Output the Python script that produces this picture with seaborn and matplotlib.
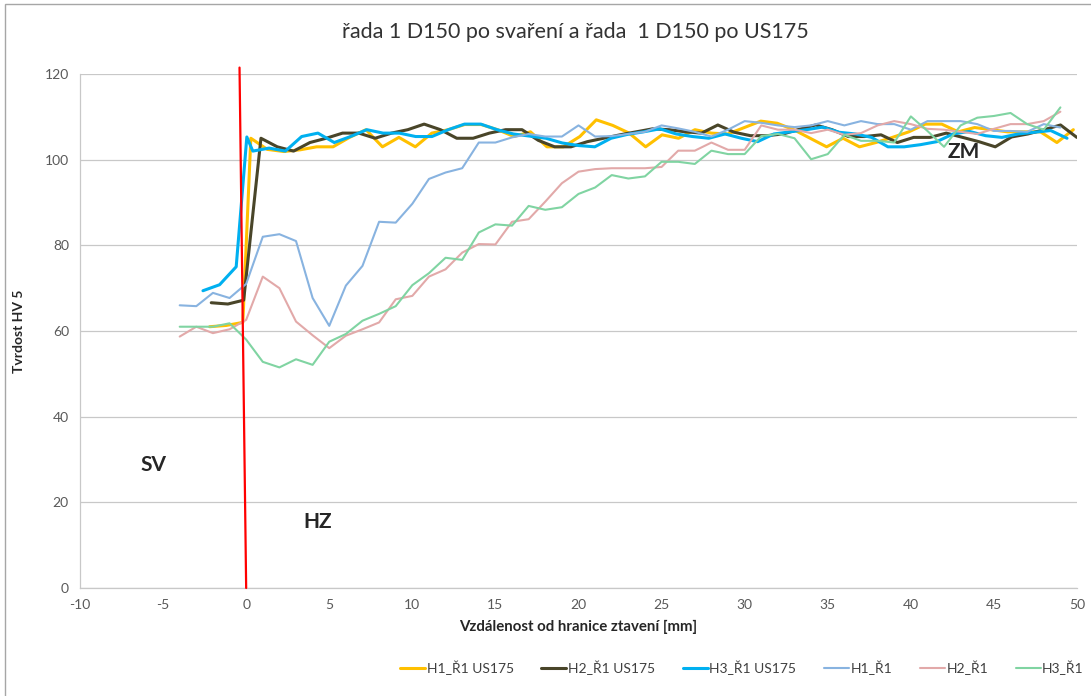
import pandas as pd
import seaborn as sns
import matplotlib.pyplot as plt
from matplotlib.patches import Rectangle

# --- data ---
# rada 1 (po svareni): mereno po 1 mm
vzd_r1 = list(range(-4, 50))
h1_r1 = [66, 65.8, 68.9, 67.7, 71, 82, 82.6, 81, 67.7, 61.2, 70.6, 75.2, 85.5, 85.3, 89.7,
         95.5, 97, 98, 104, 104, 105.2, 106, 105.4, 105.4, 108, 105.4, 105.5, 106, 106.5, 108,
         107.3, 106.5, 105.4, 107, 109, 108.6, 108, 107.6, 108, 109, 108, 109, 108.3, 108.3,
         107, 109, 109, 109, 108.3, 106.7, 106.7, 106.5, 108.3, 107.5]
h2_r1 = [58.7, 61, 59.5, 60.4, 62.6, 72.7, 70, 62.2, 59, 56, 58.9, 60.4, 62, 67.4, 68.2,
         72.7, 74.4, 78.3, 80.3, 80.2, 85.5, 86.1, 90.2, 94.5, 97.2, 97.8, 98, 98, 98, 98.3,
         102.1, 102.1, 104, 102.3, 102.3, 108, 107, 107, 106.2, 107, 105.8, 106.2, 108, 109,
         108.3, 107.2, 107, 106.5, 106, 107.2, 108.3, 108.3, 109, 111.2]
h3_r1 = [61, 61, 61, 61.8, 58, 52.8, 51.5, 53.4, 52.1, 57.5, 59.3, 62.4, 64, 65.8, 70.7,
         73.5, 77.1, 76.6, 83, 84.9, 84.6, 89.2, 88.3, 88.9, 92, 93.5, 96.4, 95.6, 96.1, 99.5,
         99.5, 99, 102.1, 101.3, 101.3, 105.5, 106, 105, 100.1, 101.3, 105.8, 104.4, 104.4, 104,
         110.1, 106.7, 103, 108, 109.8, 110.2, 110.9, 108.3, 107, 112.2]

# rada 1 po US175: body pred hranici + body za hranici (start, krok)
h1_us_pred_x = [-2.2, -1.2, -0.2]
h1_us_pred = [61, 61.3, 62]
h1_us_start, h1_us_krok = 0.28, 0.99
h1_us = [105, 102.4, 101.9, 102.3, 103, 103, 105.2, 107, 103, 105.2, 103, 106.2, 107, 108.2,
         108.2, 107, 105.4, 106.5, 103, 103, 105.4, 109.3, 108, 106.2, 103, 105.8, 105, 107,
         106.2, 106, 107.5, 109, 108.5, 107, 105, 103, 105, 103, 104, 105.2, 106.5, 108.3,
         108.3, 106.5, 107.5, 107, 106.5, 106.5, 106.5, 104, 107]

h2_us_pred_x = [-2.1, -1.1, -0.15]
h2_us_pred = [66.6, 66.3, 67.2]
h2_us_start, h2_us_krok = 0.89, 0.982
h2_us = [105, 103, 102, 104, 105, 106.2, 106.2, 105, 106.2, 107, 108.3, 107, 105, 105, 106.2,
         107, 107, 104.5, 103, 103, 104.2, 105, 105.8, 106.5, 107.2, 107, 106.5, 106.2, 108.1,
         106.4, 105.6, 105.6, 106, 107.1, 108.1, 107, 105.4, 105.4, 105.8, 104, 105.2, 105.2,
         106.2, 105.2, 104.2, 103, 105.3, 106, 107, 108.1, 105.2]

h3_us_pred_x = [-2.6, -1.6, -0.6, 0.04]
h3_us_pred = [69.4, 70.8, 75, 105.3]
h3_us_start, h3_us_krok = 0.4, 0.98
h3_us = [102, 102.7, 102, 105.4, 106.2, 104, 105.4, 107, 106.2, 106.2, 105.4, 105.4, 107, 108.3,
         108.3, 107, 106, 105.5, 105, 103.9, 103.3, 103, 105, 105.9, 106.5, 107.2, 106, 105.4,
         105, 106, 105, 104.2, 106, 106.5, 107, 107.6, 106.4, 106, 105.2, 103, 103, 103.5,
         104.2, 106, 106.6, 105.6, 105.2, 106, 106.4, 106.8, 105]

# hranice ztaveni (cervena cara)
hranice_x = [0, -0.4]
hranice_y = [0, 121.5]


def poloha(pred_x, start, krok, n):
    return pred_x + [start + krok * k for k in range(n)]


serie = [
    ('H1_Ř1 US175', poloha(h1_us_pred_x, h1_us_start, h1_us_krok, len(h1_us)), h1_us_pred + h1_us, '#FFC000', 2.2),
    ('H2_Ř1 US175', poloha(h2_us_pred_x, h2_us_start, h2_us_krok, len(h2_us)), h2_us_pred + h2_us, '#494529', 2.2),
    ('H3_Ř1 US175', poloha(h3_us_pred_x, h3_us_start, h3_us_krok, len(h3_us)), h3_us_pred + h3_us, '#00B0F0', 2.2),
    ('H1_Ř1', vzd_r1, h1_r1, '#88B3E0', 1.5),
    ('H2_Ř1', vzd_r1, h2_r1, '#E2A9A9', 1.5),
    ('H3_Ř1', vzd_r1, h3_r1, '#80D4A2', 1.5),
]

sns.set_style('white')
plt.rcParams['font.family'] = ['Lato', 'DejaVu Sans']
plt.rcParams['axes.unicode_minus'] = False

fig = plt.figure(figsize=(10.91, 6.96), dpi=100)
ax = fig.add_axes([80 / 1091, 1 - 588 / 696, (1077 - 80) / 1091, (588 - 74) / 696])

for nazev, xs, ys, barva, tl in serie:
    df = pd.DataFrame({'x': xs, 'y': ys})
    sns.lineplot(data=df, x='x', y='y', ax=ax, color=barva, linewidth=tl,
                 label=nazev, sort=False, estimator=None)

ax.plot(hranice_x, hranice_y, color='#FF0000', lw=1.6, clip_on=False, zorder=10)

ax.set_xlim(-10, 50)
ax.set_ylim(0, 120)
ax.set_xticks(range(-10, 51, 5))
ax.set_yticks(range(0, 121, 20))
ax.yaxis.grid(True, color='#C8C8C8', lw=0.9)
ax.xaxis.grid(False)
for s in ['top', 'right']:
    ax.spines[s].set_visible(False)
for s in ['left', 'bottom']:
    ax.spines[s].set_color('#C8C8C8')
    ax.spines[s].set_linewidth(0.9)
ax.tick_params(axis='both', which='major', length=4, width=0.9, color='#C8C8C8',
               labelcolor='#595959', labelsize=10)
ax.tick_params(axis='y', pad=4)
ax.tick_params(axis='x', pad=4)

ax.set_xlabel('Vzdálenost od hranice ztavení [mm]', fontsize=10.8, fontweight='bold',
              color='#262626', labelpad=6)
ax.set_ylabel('Tvrdost HV 5', fontsize=10, fontweight='bold', color='#262626', labelpad=14)

ax.text(-5.6, 28.7, 'SV', fontsize=15, fontweight='bold', ha='center', va='center')
ax.text(4.3, 15.4, 'HZ', fontsize=15, fontweight='bold', ha='center', va='center')
ax.text(43.2, 101.8, 'ZM', fontsize=15, fontweight='bold', ha='center', va='center')

fig.text(575 / 1091, 1 - 32 / 696, 'řada 1 D150 po svaření a řada  1 D150 po US175',
         ha='center', va='center', fontsize=15.5, color='#333333')

handles, labels = ax.get_legend_handles_labels()
ax.get_legend().remove()
fig.legend(handles, labels, loc='center', bbox_to_anchor=(742 / 1091, 1 - 668 / 696),
           ncol=6, frameon=False, fontsize=10, handlelength=1.8, handletextpad=0.1,
           columnspacing=2.0, labelcolor='#404040')

fig.patches.append(Rectangle((5 / 1091, -0.01), 1.0, 1 - 4 / 696 + 0.01,
                             transform=fig.transFigure, fill=False,
                             edgecolor='#A6A6A6', lw=1))

fig.savefig('out.png', dpi=100)
